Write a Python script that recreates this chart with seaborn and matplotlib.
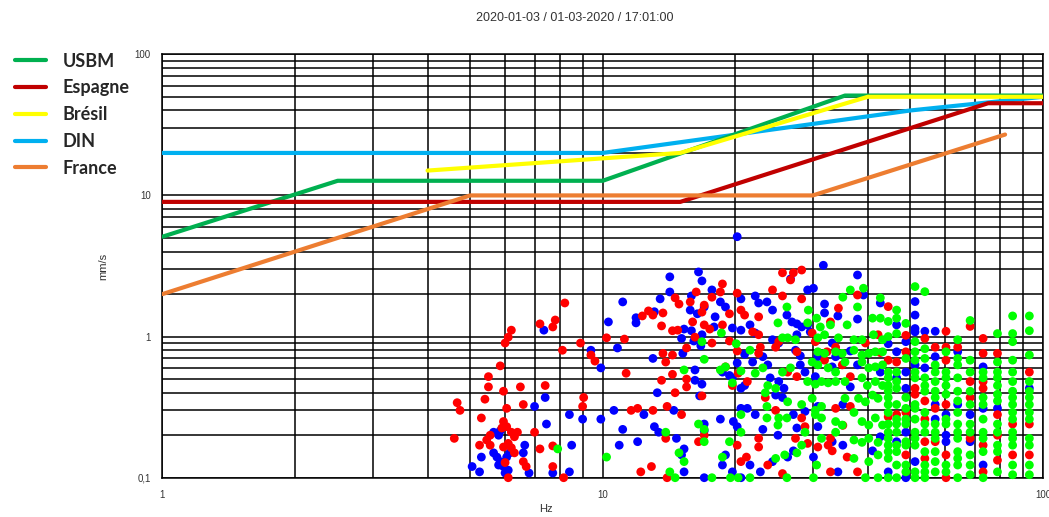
import matplotlib
matplotlib.use("Agg")
import matplotlib.pyplot as plt
from matplotlib.font_manager import FontProperties
import seaborn as sns
import pandas as pd

# ---------------------------------------------------------------- standards
usbm_hz = [1, 2.5, 10, 35.5, 100]
usbm_mms = [5.1, 12.7, 12.7, 51, 51]
espagne_hz = [1, 15, 75, 100]
espagne_mms = [9, 9, 45, 45]
bresil_hz = [4, 15, 40, 100]
bresil_mms = [15, 20, 50, 50]
din_hz = [1, 10, 50, 100]
din_mms = [20, 20, 40, 50]
france_hz = [1, 5, 30, 82]
france_mms = [2, 10, 10, 27]

standard_names = ["USBM", "Espagne", "Brésil", "DIN", "France"]
standard_colors = ["#00B050", "#C00000", "#FFFF00", "#00B0F0", "#ED7D31"]
standard_layers = [4.2, 4.3, 4.4, 4.1, 4.5]

# ---------------------------------------------------------------- measurements (Hz, mm/s)
red_points = [
    (8.2, 1.73), (7.2, 1.23), (7.8, 1.31), (7.7, 1.17), (6.2, 1.11), (6.1, 0.99), (6.0, 0.90),
    (8.9, 0.90), (8.1, 0.80), (9.4, 0.74), (9.6, 0.67), (10.2, 0.98), (11.2, 0.96), (5.85, 0.62),
    (5.5, 0.52), (5.5, 0.44), (5.95, 0.41), (6.5, 0.44), (7.4, 0.45), (5.4, 0.36), (4.67, 0.34),
    (4.74, 0.30), (6.6, 0.33), (6.05, 0.31), (9.05, 0.37), (9.0, 0.32), (5.3, 0.265), (5.95, 0.25),
    (6.05, 0.23), (5.9, 0.225), (6.2, 0.21), (6.4, 0.21), (6.3, 0.195), (5.55, 0.20), (5.45, 0.185),
    (4.6, 0.19), (7.0, 0.21), (6.1, 0.175), (5.95, 0.165), (5.25, 0.17), (5.55, 0.17), (6.2, 0.163),
    (6.3, 0.15), (7.2, 0.16), (7.7, 0.168), (6.6, 0.13), (6.7, 0.12), (6.0, 0.128), (7.7, 0.12),
    (6.1, 0.10), (8.15, 0.10),
    (18.7, 2.36), (20.2, 2.03), (18.5, 2.07), (17.7, 1.9), (16.3, 2.07), (15.8, 1.76), (14.6, 1.88),
    (14.9, 1.7), (17.0, 1.67), (16.8, 1.49), (13.7, 1.47), (13.0, 1.42), (12.7, 1.52), (12.3, 1.40),
    (13.6, 1.19), (16.0, 1.27), (17.0, 1.21), (17.5, 1.13), (18.7, 1.21), (19.4, 1.45), (20.6, 1.54),
    (21.0, 1.42), (14.4, 1.10), (14.8, 1.11), (16.2, 0.99), (17.7, 0.90), (19.4, 0.93), (20.2, 0.79),
    (15.5, 0.83), (13.7, 0.76), (14.4, 0.74), (13.9, 0.66), (11.3, 0.55), (14.4, 0.54), (15.5, 0.50),
    (15.5, 0.44), (13.6, 0.49), (14.6, 0.40), (16.8, 0.38), (19.7, 0.45), (19.0, 0.61), (12.0, 0.31),
    (11.6, 0.30), (13.0, 0.30), (14.0, 0.32), (15.1, 0.28), (13.9, 0.19), (16.5, 0.18), (17.0, 0.20),
    (20.2, 0.17), (20.6, 0.13), (12.9, 0.12), (12.2, 0.11), (14.0, 0.10),
    (25.6, 2.83), (27.1, 2.83), (28.3, 2.96), (26.7, 2.52), (24.3, 2.14), (25.6, 1.94), (28.3, 1.85),
    (22.6, 1.38), (34.3, 1.59), (32.9, 1.27), (37.9, 1.97), (21.9, 1.08), (22.6, 1.03), (24.7, 0.84),
    (25.1, 0.92), (22.8, 0.84), (22.6, 0.76), (27.6, 0.78), (29.9, 1.06), (30.4, 0.92), (33.8, 0.84),
    (32.3, 0.78), (39.5, 0.90), (42.2, 1.03), (31.9, 0.68), (35.0, 0.63), (36.5, 0.52), (42.7, 0.77),
    (20.3, 0.55), (21.3, 0.48), (26.3, 0.56), (27.6, 0.52), (24.7, 0.30), (23.4, 0.37), (28.3, 0.265),
    (28.8, 0.23), (33.8, 0.31), (36.5, 0.32), (35.1, 0.235), (32.9, 0.19), (32.5, 0.17), (33.2, 0.155),
    (30.8, 0.165), (29.2, 0.175), (22.6, 0.19), (22.6, 0.165), (21.2, 0.14), (27.4, 0.19),
    (23.7, 0.123), (25.6, 0.107), (32.9, 0.11), (35.9, 0.14), (37.9, 0.11),
]

blue_points = [
    (7.35, 1.11), (9.4, 0.80), (10.8, 0.83), (9.9, 0.60), (11.1, 1.76), (10.3, 1.27), (7.4, 0.37),
    (7.0, 0.32), (8.4, 0.28), (9.0, 0.26), (9.9, 0.26), (10.6, 0.30), (7.45, 0.24), (11.1, 0.22),
    (5.65, 0.21), (5.85, 0.215), (5.8, 0.20), (8.5, 0.17), (10.9, 0.17), (6.65, 0.17), (6.6, 0.15),
    (5.3, 0.14), (5.65, 0.15), (5.75, 0.14), (5.85, 0.13), (6.05, 0.14), (6.15, 0.15), (5.8, 0.123),
    (5.95, 0.12), (6.1, 0.113), (5.05, 0.12), (5.25, 0.11), (6.0, 0.108), (6.8, 0.108), (7.7, 0.108),
    (8.4, 0.11),
    (20.2, 5.1), (14.2, 2.65), (16.5, 2.87), (16.8, 2.48), (17.7, 2.14), (14.2, 2.07), (13.5, 1.85),
    (15.9, 1.94), (18.5, 1.76), (19.0, 1.62), (20.6, 1.85), (15.8, 1.54), (16.4, 1.45), (17.0, 1.62),
    (13.1, 1.50), (11.9, 1.36), (11.9, 1.25), (18.0, 1.38), (17.9, 1.17), (19.7, 1.15), (20.6, 1.11),
    (15.3, 1.13), (15.1, 0.97), (15.9, 1.10), (16.8, 1.03), (16.1, 0.93), (16.7, 0.86), (15.2, 0.76),
    (13.0, 0.70), (21.0, 0.75), (20.2, 0.65), (16.2, 0.58), (16.2, 0.49), (16.8, 0.46), (18.7, 0.56),
    (19.4, 0.53), (19.7, 0.51), (20.6, 0.43), (21.0, 0.45), (13.3, 0.40), (16.6, 0.38), (12.4, 0.28),
    (14.5, 0.30), (13.1, 0.23), (13.4, 0.21), (14.7, 0.19), (12.0, 0.18), (15.3, 0.16), (15.1, 0.145),
    (17.0, 0.24), (17.0, 0.215), (18.5, 0.26), (19.8, 0.25), (20.2, 0.23), (20.6, 0.31), (19.0, 0.145),
    (18.7, 0.123), (19.7, 0.11), (15.3, 0.11), (17.0, 0.10), (20.6, 0.10),
    (31.7, 3.2), (37.9, 2.73), (26.7, 2.56), (29.2, 2.14), (30.1, 2.2), (22.2, 1.94), (22.6, 1.73),
    (23.6, 1.76), (24.3, 1.54), (31.9, 1.70), (26.2, 1.42), (26.9, 1.27), (27.6, 1.23), (28.3, 1.17),
    (31.9, 1.47), (34.2, 1.40), (37.9, 1.33), (39.1, 1.97), (42.7, 1.73), (21.6, 1.21), (22.2, 1.06),
    (24.3, 0.95), (25.1, 0.90), (27.6, 1.03), (29.2, 1.21), (29.6, 1.08), (33.2, 0.90), (36.5, 0.79),
    (33.8, 0.72), (27.4, 0.80), (28.1, 0.73), (30.8, 0.72), (21.9, 0.66), (23.1, 0.72), (23.7, 0.63),
    (24.0, 0.51), (25.1, 0.48), (25.8, 0.43), (28.1, 0.63), (28.8, 0.56), (30.4, 0.52), (33.2, 0.61),
    (36.5, 0.44), (37.9, 0.63), (42.7, 0.56), (21.3, 0.31), (22.2, 0.28), (24.7, 0.385), (25.6, 0.37),
    (27.1, 0.28), (27.6, 0.225), (30.8, 0.32), (35.1, 0.33), (30.8, 0.23), (28.8, 0.295), (23.1, 0.22),
    (25.0, 0.20), (35.1, 0.17), (33.2, 0.18), (21.6, 0.123), (22.8, 0.11), (24.3, 0.13), (27.1, 0.155),
    (26.3, 0.14), (30.1, 0.14), (34.2, 0.11), (42.7, 0.195), (41.0, 0.155),
]

green_points = [
    (7.9, 0.16), (10.2, 0.14),
    (18.6, 1.06), (20.1, 0.89), (16.8, 0.92), (17.0, 0.69), (15.3, 0.58), (18.5, 0.58), (19.0, 0.61),
    (20.6, 0.57), (19.7, 0.47), (20.6, 0.28), (16.5, 0.24), (17.0, 0.22), (17.0, 0.18), (13.9, 0.21),
    (14.9, 0.15), (15.3, 0.13), (19.4, 0.18), (18.7, 0.14), (14.2, 0.11), (14.6, 0.10), (17.7, 0.10),
    (19.5, 0.10), (20.6, 0.21),
    (39.1, 2.2), (36.5, 2.14), (35.1, 1.9), (37.9, 1.62), (42.7, 1.88), (41.0, 1.35), (42.7, 1.35),
    (26.2, 1.62), (25.0, 1.25), (29.2, 1.25), (30.6, 1.35), (31.2, 1.17), (32.9, 1.21), (35.9, 1.21),
    (25.6, 0.98), (26.3, 0.98), (27.4, 0.95), (30.8, 0.98), (31.9, 1.03), (34.3, 0.98), (37.2, 0.95),
    (38.8, 0.95), (41.2, 1.03), (43.2, 0.95), (21.6, 0.80), (30.8, 0.78), (31.9, 0.76), (33.8, 0.78),
    (35.0, 0.76), (37.2, 0.80), (38.8, 0.74), (40.2, 0.76), (41.6, 0.78), (43.2, 0.78), (29.9, 0.66),
    (30.8, 0.63), (32.5, 0.60), (33.8, 0.56), (35.5, 0.66), (38.8, 0.66), (40.2, 0.60), (41.6, 0.61),
    (43.2, 0.63), (23.1, 0.60), (22.2, 0.55), (25.6, 0.56), (26.7, 0.60), (23.7, 0.45), (24.7, 0.43),
    (29.2, 0.48), (30.4, 0.46), (31.4, 0.48), (32.5, 0.47), (33.8, 0.48), (35.5, 0.48), (38.8, 0.51),
    (39.9, 0.45), (41.6, 0.48), (43.2, 0.45), (23.4, 0.40), (26.3, 0.345), (28.3, 0.33), (29.9, 0.365),
    (30.4, 0.30), (31.4, 0.32), (38.1, 0.365), (39.5, 0.345), (41.0, 0.385), (42.2, 0.365),
    (35.5, 0.365), (23.6, 0.32), (25.1, 0.265), (26.2, 0.265), (30.4, 0.28), (31.4, 0.265),
    (33.8, 0.25), (35.0, 0.236), (37.2, 0.29), (38.8, 0.25), (40.2, 0.236), (41.6, 0.265),
    (43.2, 0.236), (23.6, 0.265), (25.0, 0.236), (28.8, 0.21), (31.4, 0.19), (33.8, 0.21),
    (37.2, 0.185), (38.8, 0.178), (40.2, 0.19), (42.2, 0.178), (25.9, 0.145), (27.6, 0.15),
    (28.3, 0.17), (30.6, 0.123), (37.2, 0.137), (40.2, 0.13), (42.2, 0.145), (24.7, 0.137),
    (20.3, 0.10), (21.6, 0.10), (26.2, 0.10), (30.1, 0.10), (39.5, 0.10), (42.2, 0.10), (29.3, 1.54),
]

# High-frequency readings fall on discrete frequency bins
bin_hz = [44.5, 46.5, 48.8, 51.2, 53.9, 56.9, 60.2, 64.0, 68.3, 73.1, 78.8, 85.3, 93.1]
red_bins = [
    [1.63, 0.68, 0.27], [0.66, 0.28], [1.02, 0.78, 0.29, 0.145], [0.43, 0.39],
    [0.97, 0.35, 0.26, 0.18, 0.137], [0.84, 0.31, 0.18], [1.09, 0.84, 0.68, 0.33, 0.145, 0.10],
    [0.84], [1.18, 0.48, 0.37, 0.19], [0.97, 0.76, 0.48, 0.43, 0.17, 0.11],
    [0.76, 0.28, 0.20, 0.133], [0.24, 0.145], [0.56, 0.24, 0.145],
]
blue_bins = [
    [0.89, 0.11], [1.21, 0.78, 0.51, 0.18], [0.92, 0.56, 0.43, 0.21, 0.10],
    [1.77, 1.42, 1.14, 1.08, 0.63, 0.13], [1.09, 0.60], [1.09, 0.72, 0.33, 0.26],
    [0.28, 0.20, 0.18], [0.78, 0.33], [0.28, 0.18], [0.61, 0.31, 0.123], [0.31], [], [0.43],
]
green_bins = [
    [1.28, 1.0, 0.56, 0.51, 0.45, 0.41, 0.37, 0.33, 0.29, 0.24, 0.21, 0.19, 0.17, 0.153, 0.137, 0.10],
    [1.54, 1.35, 1.05, 0.56, 0.48, 0.43, 0.33, 0.26, 0.24, 0.21, 0.17, 0.153, 0.123, 0.10],
    [1.24, 0.70, 0.37, 0.31, 0.26, 0.24, 0.18, 0.17, 0.123, 0.11],
    [2.26, 0.92, 0.78, 0.68, 0.56, 0.51, 0.33, 0.31, 0.26, 0.21, 0.19, 0.17, 0.11, 0.10],
    [2.08, 0.82, 0.70, 0.51, 0.45, 0.41, 0.29, 0.24, 0.21, 0.153, 0.123, 0.11, 0.10],
    [0.63, 0.56, 0.48, 0.41, 0.37, 0.24, 0.21, 0.19, 0.153, 0.13, 0.11],
    [0.78, 0.56, 0.51, 0.45, 0.39, 0.26, 0.24, 0.123, 0.11],
    [0.95, 0.70, 0.63, 0.51, 0.41, 0.35, 0.29, 0.24, 0.21, 0.19, 0.153, 0.137, 0.123, 0.10],
    [1.30, 0.68, 0.56, 0.41, 0.33, 0.24, 0.21, 0.145, 0.123, 0.105],
    [0.56, 0.51, 0.37, 0.33, 0.26, 0.21, 0.19, 0.153, 0.10],
    [1.05, 0.66, 0.56, 0.51, 0.45, 0.39, 0.35, 0.24, 0.21, 0.17, 0.153, 0.11],
    [1.40, 1.05, 0.92, 0.68, 0.56, 0.48, 0.41, 0.37, 0.33, 0.29, 0.26, 0.21, 0.19, 0.17, 0.123, 0.105],
    [1.40, 1.10, 0.74, 0.48, 0.41, 0.37, 0.33, 0.29, 0.26, 0.19, 0.17, 0.123, 0.105],
]

title_text = "2020-01-03 / 01-03-2020 / 17:01:00"
y_ticks = [0.1, 1, 10, 100]
y_tick_labels = ["0,1", "1", "10", "100"]
x_ticks = [1, 10, 100]
x_tick_labels = ["1", "10", "100"]

# ---------------------------------------------------------------- assemble measurement table
rows = []
for name, pts, bins in (("b", blue_points, blue_bins),
                        ("r", red_points, red_bins),
                        ("g", green_points, green_bins)):
    rows += [{"hz": f, "mms": v, "axis": name} for f, v in pts]
    for f, vals in zip(bin_hz, bins):
        rows += [{"hz": f, "mms": v, "axis": name} for v in vals]
meas = pd.DataFrame(rows)

# ---------------------------------------------------------------- figure
sns.set_style("white")
plt.rcParams["font.family"] = ["Liberation Sans", "DejaVu Sans"]

fig = plt.figure(figsize=(10.49, 5.17), dpi=100)
ax = fig.add_axes([0.1549, 0.0760, 0.8394, 0.8190])
ax.set_xscale("log")
ax.set_yscale("log")
ax.set_xlim(1, 100)
ax.set_ylim(0.1, 100)

ax.grid(True, which="both", color="black", linewidth=1.1)
ax.set_axisbelow(True)

sns.scatterplot(data=meas, x="hz", y="mms", hue="axis",
                palette={"r": "#FF0000", "b": "#0000FF", "g": "#00FF00"},
                s=40, linewidth=0, legend=False, ax=ax, clip_on=False, zorder=3)

std_data = [(usbm_hz, usbm_mms), (espagne_hz, espagne_mms), (bresil_hz, bresil_mms),
            (din_hz, din_mms), (france_hz, france_mms)]
for (hz, mms), name, col, z in zip(std_data, standard_names, standard_colors, standard_layers):
    sns.lineplot(x=hz, y=mms, color=col, linewidth=3, sort=False, estimator=None,
                 label=name, ax=ax, zorder=z)

handles, labels = ax.get_legend_handles_labels()
if ax.get_legend() is not None:
    ax.get_legend().remove()
fig.legend(handles, labels, loc="upper left", bbox_to_anchor=(0.0143, 0.898),
           frameon=False, prop=FontProperties(family="Lato", weight="bold", size=13),
           handlelength=1.7, handletextpad=0.95, labelspacing=0.54,
           borderpad=0, borderaxespad=0)

ax.set_yticks(y_ticks)
ax.set_yticklabels(y_tick_labels)
ax.set_xticks(x_ticks)
ax.set_xticklabels(x_tick_labels)
ax.tick_params(which="major", length=5, width=1, labelsize=7, labelcolor="#333333", color="black")
ax.tick_params(which="minor", length=0)
for sp in ax.spines.values():
    sp.set_color("black")
    sp.set_linewidth(1.1)

ax.set_xlabel("Hz", fontsize=8, color="#333333")
ax.xaxis.set_label_coords(0.4355, -0.062)
ax.set_ylabel("mm/s", fontsize=8, color="#333333")
ax.yaxis.set_label_coords(-0.062, 0.5)

fig.text(575 / 1049, 1 - 18 / 517, title_text, ha="center", va="center",
         fontsize=9, color="#333333")

fig.savefig("out.png", dpi=100)
